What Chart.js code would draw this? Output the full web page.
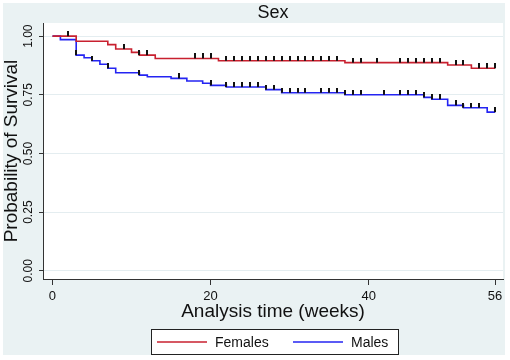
<!DOCTYPE html>
<html>
<head>
<meta charset="utf-8">
<script src="https://cdn.jsdelivr.net/npm/chart.js@4.4.1/dist/chart.umd.min.js"></script>
<style>
  html, body { margin: 0; padding: 0; background: #fff; }
  canvas { display: block; }
</style>
</head>
<body>
<canvas id="km" width="510" height="360"></canvas>
<script>
// Kaplan-Meier survival by sex: week of each drop and survival after it
let femaleWeeks = [0, 3, 7, 8, 10, 11, 13, 21, 37, 50, 53, 56];
let femaleSurv = [1.000, 0.978, 0.964, 0.945, 0.931, 0.919, 0.905, 0.895, 0.887, 0.877, 0.863, 0.863];
let femaleCensored = [2, 9, 11, 12, 18, 19, 20, 22, 23, 24, 25, 26, 27, 28, 29, 30, 31, 32, 33, 34, 35, 36,
    38, 39, 41, 44, 45, 46, 47, 48, 49, 51, 52, 54, 55, 56];

let maleWeeks = [0, 1, 3, 4, 5, 6, 7, 8, 11, 12, 15, 17, 19, 20, 22, 27, 29, 37, 47, 48, 50, 52, 55, 56];
let maleSurv = [1.000, 0.985, 0.919, 0.908, 0.895, 0.880, 0.863, 0.844, 0.834, 0.827, 0.820, 0.809,
    0.799, 0.790, 0.783, 0.772, 0.759, 0.750, 0.739, 0.731, 0.705, 0.695, 0.676, 0.676];
let maleCensored = [3, 5, 7, 11, 16, 20, 22, 23, 24, 25, 26, 27, 28, 29, 30, 31, 32, 34, 35, 36, 37, 38, 39,
    42, 44, 45, 46, 47, 48, 49, 51, 52, 53, 54, 56];

let groupNames = ['Females', 'Males'];
let xTicks = [0, 20, 40, 56];
let yTicks = [0, 0.25, 0.5, 0.75, 1];
let panelTitle = 'Sex';

const FONT = "'Liberation Sans', Arial, sans-serif";
const RED = '#c8202f';
const BLUE = '#2424f2';

let toPoints = (weeks, surv) => weeks.map((w, i) => ({ x: w, y: surv[i] }));

let survAt = (weeks, surv, t) => {
    let s = surv[0];
    weeks.forEach((w, i) => { if (w <= t) s = surv[i]; });
    return s;
};

let censorPoints = (censored, weeks, surv) => censored.map(t => ({ x: t, y: survAt(weeks, surv, t) }));

// small upward tick used as censoring mark
let tickMark = document.createElement('canvas');
tickMark.width = 2;
tickMark.height = 10;
let tctx = tickMark.getContext('2d');
tctx.fillStyle = '#111';
tctx.fillRect(0, 0, 2, 5);

let censorSet = (data) => ({
    type: 'scatter',
    data: data,
    censor: true,
    pointStyle: tickMark,
    pointRadius: 3,
    showLine: false
});

let curveSet = (label, data, color) => ({
    type: 'line',
    label: label,
    data: data,
    stepped: 'before',
    borderColor: color,
    borderWidth: 1.6,
    pointRadius: 0,
    fill: false
});

let stataFrame = {
    id: 'stataFrame',
    beforeDraw(chart) {
        let { ctx, chartArea: a } = chart;
        ctx.save();
        ctx.fillStyle = '#ffffff';
        ctx.fillRect(0, 0, chart.width, chart.height);
        ctx.fillStyle = '#eaf2f3';
        ctx.fillRect(3, 3, 502, 352);
        ctx.fillStyle = '#ffffff';
        ctx.fillRect(a.left, a.top, a.right - a.left, a.bottom - a.top);
        ctx.restore();
    },
    afterDraw(chart) {
        let { ctx, chartArea: a } = chart;
        ctx.save();
        ctx.fillStyle = '#111';
        ctx.font = '18px ' + FONT;
        ctx.textAlign = 'center';
        ctx.textBaseline = 'alphabetic';
        ctx.fillText(panelTitle, (a.left + a.right) / 2, 18);

        // legend box
        ctx.fillStyle = '#ffffff';
        ctx.fillRect(151.5, 329.5, 247, 25);
        ctx.strokeStyle = '#222';
        ctx.lineWidth = 1;
        ctx.strokeRect(151.5, 329.5, 247, 25);

        let starts = [157, 293];
        let curves = chart.data.datasets.filter(d => !d.censor);
        ctx.font = '14px ' + FONT;
        ctx.textAlign = 'left';
        curves.forEach((d, i) => {
            let x = starts[i];
            ctx.strokeStyle = d.borderColor;
            ctx.lineWidth = 1.6;
            ctx.beginPath();
            ctx.moveTo(x, 342);
            ctx.lineTo(x + 50, 342);
            ctx.stroke();
            ctx.fillStyle = '#111';
            ctx.fillText(d.label, x + 58, 347);
        });
        ctx.restore();
    }
};

Chart.defaults.font.family = FONT;

new Chart(document.getElementById('km'), {
    type: 'line',
    data: {
        datasets: [
            censorSet(censorPoints(femaleCensored, femaleWeeks, femaleSurv)),
            censorSet(censorPoints(maleCensored, maleWeeks, maleSurv)),
            curveSet(groupNames[0], toPoints(femaleWeeks, femaleSurv), RED),
            curveSet(groupNames[1], toPoints(maleWeeks, maleSurv), BLUE)
        ]
    },
    options: {
        responsive: false,
        devicePixelRatio: 1,
        animation: false,
        layout: { padding: { top: 23, right: 7, bottom: 37, left: 0 } },
        plugins: {
            legend: { display: false },
            tooltip: { enabled: false }
        },
        scales: {
            x: {
                type: 'linear',
                min: -1.2,
                max: 57,
                afterBuildTicks: s => { s.ticks = xTicks.map(v => ({ value: v })); },
                afterFit: s => { s.height = 44; },
                grid: { drawOnChartArea: false, tickLength: 6, tickColor: '#333', tickWidth: 1 },
                border: { color: '#333', width: 1 },
                ticks: { color: '#111', font: { size: 13 }, padding: 3.5, maxRotation: 0, autoSkip: false },
                title: { display: true, text: 'Analysis time (weeks)', color: '#111', font: { size: 19 }, padding: 0 }
            },
            y: {
                type: 'linear',
                min: -0.035,
                max: 1.056,
                afterBuildTicks: s => { s.ticks = yTicks.map(v => ({ value: v })); },
                afterFit: s => { s.width = 43; },
                grid: { color: '#e4edf0', lineWidth: 1, tickLength: 4, tickColor: '#333', tickWidth: 1 },
                border: { color: '#333', width: 1 },
                ticks: {
                    color: '#111',
                    font: { size: 12 },
                    minRotation: 90,
                    maxRotation: 90,
                    crossAlign: 'center',
                    padding: -1.5,
                    autoSkip: false,
                    callback: v => Number(v).toFixed(2)
                },
                title: { display: true, text: 'Probability of Survival', color: '#111', font: { size: 19 }, padding: 0 }
            }
        }
    },
    plugins: [stataFrame]
});
</script>
</body>
</html>
